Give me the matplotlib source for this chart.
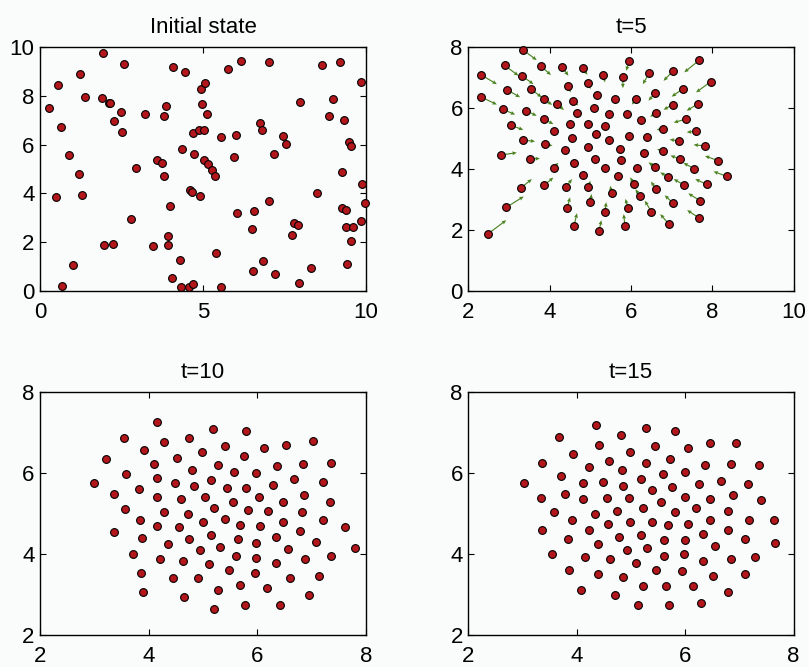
import matplotlib as mpl
mpl.use('agg')
import matplotlib.pyplot as plt

mpl.rcParams['font.family'] = ['Liberation Sans', 'DejaVu Sans']

# initial random positions
x0 = [0.29, 0.55, 0.64, 0.48, 0.68, 0.89, 1.00, 1.19, 1.24, 1.30, 1.37, 1.92, 1.91,
      1.97, 2.11, 2.16, 2.26, 2.25, 2.48, 2.51, 2.59, 2.79, 2.96, 3.23, 3.48, 3.60,
      3.75, 3.80, 3.81, 3.88, 3.92, 3.93, 4.00, 4.08, 4.05, 4.30, 4.37, 4.33, 4.46,
      4.56, 4.70, 4.59, 4.66, 4.68, 4.71, 4.89, 4.92, 4.93, 4.96, 5.03, 5.06, 5.02,
      5.13, 5.15, 5.29, 5.36, 5.40, 5.55, 5.56, 5.77, 5.95, 6.02, 6.05, 6.17, 6.49,
      6.56, 6.54, 6.76, 6.80, 6.83, 7.01, 7.03, 7.19, 7.22, 7.46, 7.54, 7.72, 7.78,
      7.90, 7.93, 7.99, 8.30, 8.51, 8.65, 8.88, 8.99, 9.19, 9.25, 9.26, 9.33, 9.39,
      9.38, 9.42, 9.48, 9.53, 9.53, 9.60, 9.84, 9.84, 9.87, 9.96]
y0 = [7.51, 8.44, 6.71, 3.86, 0.21, 5.58, 1.08, 4.81, 8.92, 3.92, 7.95, 9.75, 7.93,
      1.90, 7.73, 7.73, 6.99, 1.92, 7.34, 6.53, 9.30, 2.96, 5.05, 7.25, 1.86, 5.37,
      5.26, 4.71, 7.18, 7.58, 2.25, 1.89, 3.47, 9.19, 0.51, 1.25, 5.81, 0.14, 8.99,
      0.14, 0.26, 4.15, 4.04, 6.48, 5.64, 6.62, 3.88, 8.27, 7.68, 6.60, 8.52, 5.37,
      7.25, 5.21, 4.96, 4.73, 1.56, 0.16, 6.32, 9.11, 5.51, 6.41, 3.18, 9.44, 2.53,
      3.29, 0.82, 6.90, 6.60, 1.21, 9.40, 3.70, 5.63, 0.68, 6.36, 6.03, 2.29, 2.79,
      2.70, 0.32, 7.77, 0.92, 4.03, 9.26, 7.19, 7.86, 9.41, 4.89, 3.42, 7.01, 3.32,
      2.63, 1.10, 6.12, 5.95, 2.03, 2.63, 2.86, 8.56, 4.38, 3.60]

# t=5 positions and velocity arrows
x5 = [3.35, 2.32, 2.31, 2.89, 3.32, 3.78, 4.31, 4.81, 5.32, 5.80, 5.96, 6.45, 7.04,
      7.67, 7.96, 2.96, 3.53, 3.85, 4.44, 4.94, 5.16, 5.61, 6.12, 6.59, 7.28, 7.64,
      7.03, 2.84, 3.42, 4.17, 4.58, 4.67, 5.09, 5.45, 5.90, 6.25, 6.61, 7.35, 7.61,
      3.86, 3.04, 4.10, 4.49, 4.95, 5.37, 4.55, 5.13, 5.45, 5.95, 6.39, 6.78, 7.18,
      7.82, 3.35, 3.89, 2.79, 4.38, 4.95, 5.72, 6.31, 6.79, 7.20, 8.14, 3.51, 4.60,
      5.11, 5.75, 4.10, 5.37, 6.15, 6.59, 7.56, 8.36, 4.83, 5.69, 6.90, 3.86, 4.40,
      4.95, 6.07, 6.61, 7.30, 7.86, 3.30, 5.52, 6.22, 5.00, 7.04, 7.70, 2.93, 4.43,
      5.93, 5.36, 6.50, 7.68, 6.93, 4.60, 5.85, 5.21, 2.47]
y5 = [7.91, 7.09, 6.37, 7.41, 7.06, 7.39, 7.34, 7.31, 7.09, 7.01, 7.56, 7.16, 7.23,
      7.57, 6.87, 6.60, 6.64, 6.30, 6.72, 6.82, 6.44, 6.29, 6.29, 6.49, 6.64, 6.14,
      6.12, 5.97, 5.92, 6.15, 6.25, 5.84, 6.01, 5.81, 5.81, 5.61, 5.84, 5.64, 5.24,
      5.64, 5.44, 5.26, 5.48, 5.47, 5.41, 5.02, 5.15, 4.96, 5.10, 5.04, 5.32, 4.93,
      4.76, 4.95, 4.81, 4.46, 4.62, 4.72, 4.67, 4.53, 4.60, 4.34, 4.28, 4.33, 4.21,
      4.33, 4.31, 4.05, 4.03, 4.04, 4.07, 4.01, 3.76, 3.82, 3.77, 3.75, 3.47, 3.42,
      3.40, 3.52, 3.36, 3.48, 3.50, 3.39, 3.23, 3.10, 2.92, 2.87, 2.96, 2.74, 2.73,
      2.71, 2.58, 2.60, 2.39, 2.19, 2.14, 2.14, 1.95, 1.86]
u5 = [0.33, 0.38, 0.39, 0.34, 0.28, 0.25, 0.15, 0.12, 0.04, 0.00, -0.08, -0.16, -0.24,
      -0.36, -0.36, 0.31, 0.27, 0.21, 0.08, 0.07, 0.05, 0.02, -0.10, -0.16, -0.28, -0.27,
      -0.23, 0.31, 0.26, 0.18, 0.12, 0.04, 0.02, 0.01, -0.02, -0.06, -0.14, -0.30, -0.24,
      0.23, 0.31, 0.08, 0.03, 0.02, 0.01, 0.03, 0.01, 0.00, -0.02, -0.05, -0.15, -0.23,
      -0.28, 0.29, 0.18, 0.40, 0.04, 0.01, -0.01, -0.08, -0.15, -0.23, -0.32, 0.25, 0.03,
      0.01, -0.01, 0.11, 0.00, -0.04, -0.16, -0.27, -0.33, 0.03, -0.01, -0.18, 0.23, 0.15,
      0.05, -0.09, -0.12, -0.25, -0.28, 0.26, -0.03, -0.11, 0.03, -0.21, -0.29, 0.43, 0.07,
      -0.07, 0.03, -0.16, -0.30, -0.21, 0.07, -0.03, 0.06, 0.46]
v5 = [-0.33, -0.30, -0.25, -0.34, -0.27, -0.30, -0.27, -0.21, -0.24, -0.35, -0.33, -0.37, -0.33,
      -0.39, -0.35, -0.24, -0.28, -0.19, -0.20, -0.19, -0.12, -0.08, -0.17, -0.24, -0.26, -0.22,
      -0.17, -0.18, -0.17, -0.21, -0.16, -0.06, -0.04, -0.03, -0.03, -0.04, -0.12, -0.11, -0.03,
      -0.16, -0.15, -0.04, -0.02, -0.02, -0.01, 0.00, 0.00, 0.00, 0.00, 0.00, -0.03, 0.04,
      0.04, -0.04, -0.04, 0.08, 0.00, 0.00, 0.01, 0.05, 0.05, 0.10, 0.15, 0.02, 0.02,
      0.01, 0.02, 0.16, 0.03, 0.04, 0.15, 0.19, 0.16, 0.10, 0.06, 0.14, 0.25, 0.25,
      0.22, 0.21, 0.23, 0.19, 0.17, 0.28, 0.22, 0.24, 0.26, 0.27, 0.24, 0.36, 0.34,
      0.31, 0.33, 0.36, 0.26, 0.33, 0.41, 0.38, 0.37, 0.46]

# t=10
x10 = [2.99, 3.21, 3.36, 3.36, 3.55, 3.58, 3.57, 3.71, 3.82, 3.84, 3.87, 3.86, 3.90,
       3.92, 4.10, 4.15, 4.15, 4.16, 4.20, 4.16, 4.29, 4.28, 4.35, 4.44, 4.52, 4.49,
       4.59, 4.56, 4.63, 4.65, 4.74, 4.79, 4.83, 4.72, 4.75, 4.94, 4.91, 4.99, 5.03,
       5.00, 5.18, 5.14, 5.20, 5.14, 5.11, 5.27, 5.27, 5.20, 5.32, 5.41, 5.45, 5.41,
       5.47, 5.55, 5.58, 5.64, 5.68, 5.61, 5.69, 5.75, 5.79, 5.82, 5.79, 5.77, 5.98,
       5.98, 5.97, 5.96, 6.04, 6.05, 6.12, 6.19, 6.17, 6.29, 6.36, 6.35, 6.34, 6.47,
       6.47, 6.41, 6.52, 6.57, 6.61, 6.67, 6.84, 6.83, 6.79, 6.86, 6.88, 6.95, 7.02,
       7.08, 7.14, 7.20, 7.20, 7.35, 7.34, 7.35, 7.61, 7.79]
y10 = [5.76, 6.35, 5.48, 4.54, 6.88, 5.99, 5.12, 4.01, 5.61, 4.85, 4.40, 3.54, 3.07,
       6.56, 6.23, 5.88, 5.42, 4.69, 3.89, 7.27, 6.78, 5.05, 4.26, 3.41, 6.37, 5.76,
       5.35, 4.68, 3.83, 2.93, 6.88, 6.08, 5.67, 5.00, 4.38, 4.10, 3.40, 6.51, 5.40,
       4.78, 7.08, 5.83, 5.14, 4.47, 3.76, 6.19, 3.12, 2.65, 4.18, 6.66, 5.64, 4.86,
       3.60, 5.29, 6.03, 4.38, 4.71, 3.96, 3.24, 6.43, 5.64, 5.08, 7.04, 2.73, 6.01,
       4.28, 3.91, 3.54, 5.42, 4.70, 6.61, 5.06, 3.17, 5.71, 6.17, 4.41, 3.78, 5.29,
       4.80, 2.74, 6.70, 4.13, 3.42, 5.85, 6.23, 5.04, 4.58, 5.46, 3.87, 2.98, 6.80,
       4.30, 3.45, 5.77, 4.83, 6.24, 5.29, 3.94, 4.67, 4.14]

# t=15
x15 = [3.02, 3.34, 3.36, 3.36, 3.54, 3.57, 3.67, 3.70, 3.78, 3.83, 3.85, 3.92, 3.93,
       4.08, 4.12, 4.11, 4.16, 4.22, 4.22, 4.33, 4.36, 4.41, 4.40, 4.39, 4.49, 4.55,
       4.58, 4.59, 4.61, 4.70, 4.74, 4.77, 4.81, 4.84, 4.85, 4.86, 4.93, 4.97, 4.99,
       4.99, 5.10, 5.13, 5.18, 5.19, 5.23, 5.28, 5.28, 5.29, 5.22, 5.38, 5.39, 5.44,
       5.46, 5.56, 5.59, 5.60, 5.61, 5.65, 5.69, 5.70, 5.72, 5.75, 5.81, 5.82, 5.94,
       5.97, 5.99, 5.99, 5.99, 6.06, 6.05, 6.14, 6.19, 6.25, 6.33, 6.33, 6.36, 6.30,
       6.46, 6.46, 6.46, 6.55, 6.52, 6.66, 6.79, 6.78, 6.79, 6.84, 6.84, 6.88, 6.93,
       7.10, 7.10, 7.16, 7.18, 7.29, 7.37, 7.40, 7.64, 7.66]
y15 = [5.75, 5.38, 6.26, 4.59, 4.01, 5.03, 6.89, 5.94, 5.48, 4.37, 3.60, 4.84, 6.47,
       3.11, 5.35, 5.76, 3.93, 6.15, 4.59, 4.98, 7.18, 6.69, 4.25, 3.51, 5.78, 5.38,
       4.74, 6.31, 3.87, 2.99, 5.06, 4.42, 6.95, 6.08, 5.68, 3.44, 4.10, 5.38, 6.52,
       4.80, 3.77, 2.73, 4.48, 5.86, 5.15, 6.24, 7.12, 4.14, 3.20, 4.80, 5.59, 6.68,
       3.60, 5.28, 5.98, 4.34, 3.96, 3.22, 4.72, 2.74, 6.36, 5.66, 5.04, 7.03, 3.59,
       4.00, 4.34, 5.42, 6.02, 4.74, 6.61, 3.21, 5.13, 5.72, 4.49, 3.84, 6.20, 2.78,
       5.36, 4.83, 6.75, 4.20, 3.46, 5.81, 5.07, 4.60, 3.06, 3.88, 6.22, 5.46, 6.74,
       4.36, 3.50, 5.74, 4.85, 3.93, 6.19, 5.33, 4.83, 4.28]

panels = [
    ('Initial state', x0, y0, (0, 10), (0, 10), [0, 5, 10], [0, 2, 4, 6, 8, 10]),
    ('t=5', x5, y5, (2, 10), (0, 8), [2, 4, 6, 8, 10], [0, 2, 4, 6, 8]),
    ('t=10', x10, y10, (2, 8), (2, 8), [2, 4, 6, 8], [2, 4, 6, 8]),
    ('t=15', x15, y15, (2, 8), (2, 8), [2, 4, 6, 8], [2, 4, 6, 8]),
]

fig = plt.figure(figsize=(8.09, 6.67), dpi=100, facecolor='#fafbfb')
rects = [
    [0.0494, 0.564, 0.403, 0.365],
    [0.579, 0.564, 0.402, 0.365],
    [0.0494, 0.048, 0.403, 0.364],
    [0.579, 0.048, 0.402, 0.364],
]

for i, (title, xs, ys, xl, yl, xt, yt) in enumerate(panels):
    ax = fig.add_axes(rects[i])
    ax.set_facecolor('#fafbfb')
    if i == 1:
        ax.quiver(xs, ys, u5, v5, angles='xy', scale_units='xy', scale=1,
                  color='#4a821f', width=0.0035, headwidth=3.5, headlength=4,
                  headaxislength=3.5, zorder=2)
    ax.plot(xs, ys, 'o', ms=5.6, mfc='#b3171c', mec='k', mew=0.8, zorder=3,
            clip_on=False)
    ax.set_xlim(xl)
    ax.set_ylim(yl)
    ax.set_xticks(xt)
    ax.set_yticks(yt)
    ax.tick_params(direction='in', top=True, right=True, length=4, width=0.8,
                   labelsize=16)
    ax.tick_params(axis='y', pad=4)
    ax.tick_params(axis='x', pad=8)
    for s in ax.spines.values():
        s.set_linewidth(1.0)
    ax.set_title(title, fontsize=16, pad=10)

plt.savefig('out.png', dpi=100, facecolor=fig.get_facecolor())
